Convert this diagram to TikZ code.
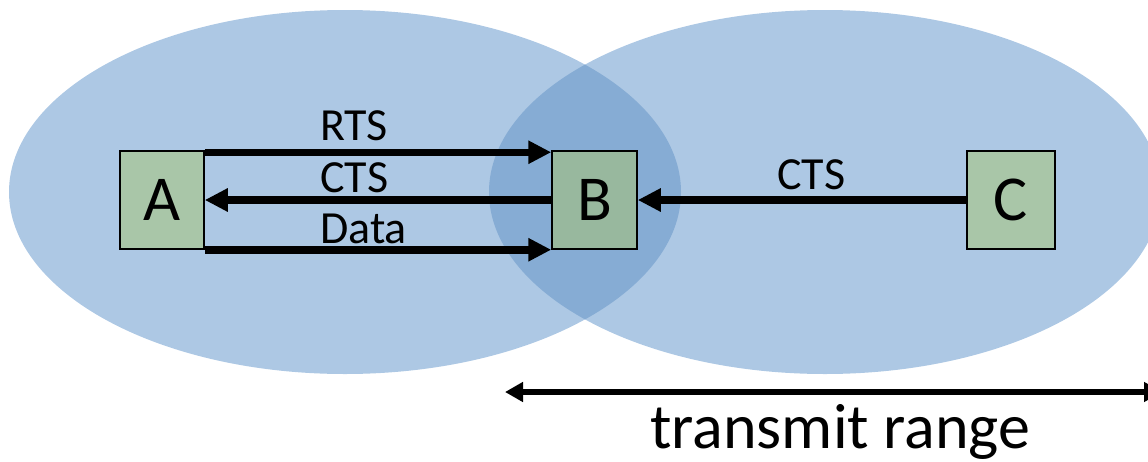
\documentclass[tikz,border=0pt]{standalone}
\usepackage{fontspec}
\setmainfont{Carlito}
\usetikzlibrary{arrows.meta,calc}
\definecolor{rangefill}{RGB}{173,200,228}
\definecolor{overlapfill}{RGB}{134,172,212}
\definecolor{nodefill}{RGB}{169,198,168}
\definecolor{nodefillB}{RGB}{152,184,158}
\begin{document}
\begin{tikzpicture}[x=1pt,y=-1pt,
  station/.style={draw=black, line width=1.5pt, fill=nodefill, minimum height=98pt,
    inner sep=0pt, font=\fontsize{64}{64}\selectfont},
  msg/.style={line width=7.5pt, -{Triangle[length=23pt,width=22pt]}},
  lbl/.style={anchor=base west, inner sep=0pt, font=\fontsize{46}{46}\selectfont},
  rangearrow/.style={line width=6pt, {Triangle[length=18pt,width=19pt]}-{Triangle[length=18pt,width=19pt]}}]
\clip (0,0) rectangle (1148,461);
% transmission ranges of A and C
\fill[rangefill] (345,192) ellipse [x radius=336, y radius=182];
\fill[rangefill] (825,192) ellipse [x radius=336, y radius=182];
\begin{scope}
  \clip (345,192) ellipse [x radius=336, y radius=182];
  \fill[overlapfill] (825,192) ellipse [x radius=336, y radius=182];
\end{scope}
% stations
\node[station, minimum width=84pt] (A) at (162,200) {A};
\node[station, minimum width=85pt, fill=nodefillB] (B) at (594.5,200) {B};
\node[station, minimum width=88pt] (C) at (1011,200) {C};
% handshake messages
\draw[msg] ($(A.north east)+(0,2)$) -- ($(B.north west)+(0,2)$);
\draw[msg] (B.west) -- (A.east);
\draw[msg] (A.south east) -- (B.south west);
\draw[msg] (C.west) -- (B.east);
\node[lbl] (rts) at (320,140) {RTS};
\node[lbl] (ctsA) at (320,192) {CTS};
\node[lbl] (data) at (320,243) {Data};
\node[lbl] (ctsC) at (777,189) {CTS};
% range scale
\coordinate (rl) at (505,392);
\coordinate (rr) at (1162,392);
\draw[rangearrow] (rl) -- (rr);
\node[anchor=base west, inner sep=0pt, font=\fontsize{64}{64}\selectfont] (range) at (650,448) {transmit range};
\end{tikzpicture}
\end{document}
